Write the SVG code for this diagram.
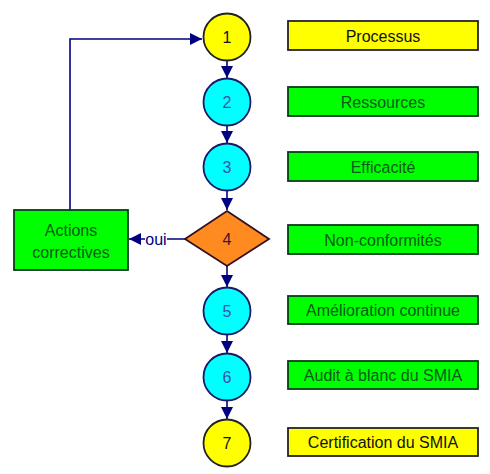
<svg xmlns="http://www.w3.org/2000/svg" width="490" height="474" viewBox="0 0 490 474">
<style>
text{font-family:"Liberation Sans",Arial,sans-serif;font-size:16px;text-anchor:middle;dominant-baseline:central}
.cy{fill:#ffff00;stroke:#222222;stroke-width:1.8}
.cc{fill:#00ffff;stroke:#1a1a66;stroke-width:1.8}
.bg{fill:#00ff00;stroke:#0a3a1a;stroke-width:1.8}
.by{fill:#ffff00;stroke:#222233;stroke-width:1.8}
.tg{fill:#0a5a1a}
.tc{fill:#3355aa}
.tk{fill:#111111}
.ln{stroke:#000080;stroke-width:1.6;fill:none}
</style>
<defs>
<marker id="ah" markerWidth="12" markerHeight="12" refX="12" refY="6" orient="auto" markerUnits="userSpaceOnUse">
<path d="M0,0 L12,6 L0,12 z" fill="#000080"/>
</marker>
</defs>
<rect width="490" height="474" fill="#ffffff"/>
<g id="connectors">
<line class="ln" x1="227" y1="60" x2="227" y2="78" marker-end="url(#ah)"/>
<line class="ln" x1="227" y1="125" x2="227" y2="143" marker-end="url(#ah)"/>
<line class="ln" x1="227" y1="190" x2="227" y2="210" marker-end="url(#ah)"/>
<line class="ln" x1="227" y1="266" x2="227" y2="287" marker-end="url(#ah)"/>
<line class="ln" x1="227" y1="335" x2="227" y2="353" marker-end="url(#ah)"/>
<line class="ln" x1="227" y1="401" x2="227" y2="419" marker-end="url(#ah)"/>
<polyline class="ln" points="70,210 70,39 202,39" marker-end="url(#ah)"/>
<line class="ln" x1="185" y1="239" x2="129" y2="239" marker-end="url(#ah)"/>
<rect x="145" y="231" width="22" height="16" fill="#ffffff"/>
<text x="156" y="239" font-size="13" fill="#000080">oui</text>
</g>
<g id="n1"><circle class="cy" cx="227" cy="37" r="23.5"/><text class="tk" x="227" y="37">1</text></g>
<g id="n2"><circle class="cc" cx="227" cy="102" r="23.5"/><text class="tc" x="227" y="102">2</text></g>
<g id="n3"><circle class="cc" cx="227" cy="167" r="23.5"/><text class="tc" x="227" y="167">3</text></g>
<g id="n4"><polygon points="227,211 269,239 227,266 185,239" fill="#ff8a1f" stroke="#331122" stroke-width="1.8"/><text x="227" y="239" fill="#441133">4</text></g>
<g id="n5"><circle class="cc" cx="227" cy="311" r="23.5"/><text class="tc" x="227" y="311">5</text></g>
<g id="n6"><circle class="cc" cx="227" cy="377" r="23.5"/><text class="tc" x="227" y="377">6</text></g>
<g id="n7"><circle class="cy" cx="227" cy="443" r="23.5"/><text class="tk" x="227" y="443">7</text></g>
<g id="actions"><rect class="bg" x="14" y="210" width="114" height="60"/><text class="tg" x="71" y="230">Actions</text><text class="tg" x="71" y="252">correctives</text></g>
<g id="l1"><rect class="by" x="288" y="21" width="190" height="29"/><text class="tk" x="383" y="36">Processus</text></g>
<g id="l2"><rect class="bg" x="288" y="87" width="190" height="29"/><text class="tg" x="383" y="102">Ressources</text></g>
<g id="l3"><rect class="bg" x="288" y="152" width="190" height="29"/><text class="tg" x="383" y="167">Efficacité</text></g>
<g id="l4"><rect class="bg" x="288" y="225" width="190" height="29"/><text class="tg" x="383" y="240">Non-conformités</text></g>
<g id="l5"><rect class="bg" x="288" y="296" width="190" height="28"/><text class="tg" x="383" y="310">Amélioration continue</text></g>
<g id="l6"><rect class="bg" x="288" y="361" width="190" height="28"/><text class="tg" x="383" y="375">Audit à blanc du SMIA</text></g>
<g id="l7"><rect class="by" x="288" y="428" width="190" height="28"/><text class="tk" x="383" y="442">Certification du SMIA</text></g>
</svg>
